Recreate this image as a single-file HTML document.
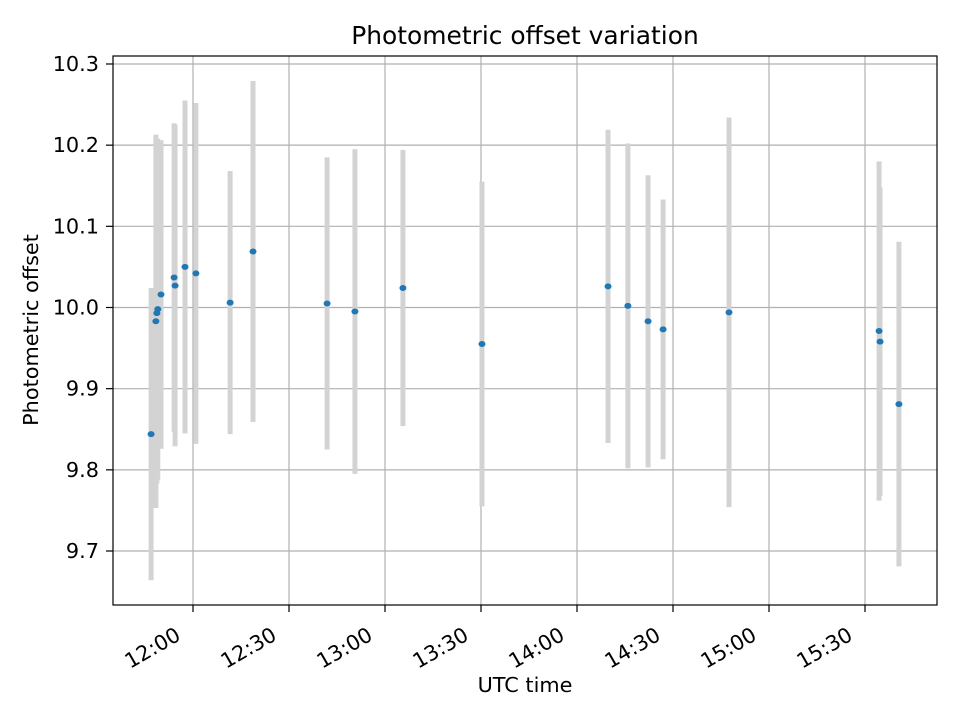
<!DOCTYPE html>
<html><head><meta charset="utf-8"><style>body{margin:0;background:#fff}svg{font-family:"DejaVu Sans","Liberation Sans",sans-serif}</style></head>
<body>
<svg id="c" width="960" height="720" xmlns="http://www.w3.org/2000/svg"></svg>
<script>
// minutes after 12:00 UTC
const times=[-13.1,-11.6,-11.3,-11.0,-10.0,-5.9,-5.6,-2.5,0.9,11.6,18.75,41.9,50.6,65.6,90.3,129.7,135.9,142.2,146.9,167.5,214.4,214.7,220.6];
const values=[9.844,9.983,9.993,9.998,10.016,10.037,10.027,10.050,10.042,10.006,10.069,10.005,9.995,10.024,9.955,10.026,10.002,9.983,9.973,9.994,9.971,9.958,9.881];
const errors=[0.18,0.23,0.21,0.21,0.19,0.19,0.198,0.205,0.21,0.162,0.21,0.18,0.20,0.17,0.20,0.193,0.20,0.18,0.16,0.24,0.209,0.19,0.20];
const yTicks=[9.7,9.8,9.9,10.0,10.1,10.2,10.3];
const xTicks=[0,30,60,90,120,150,180,210];
const xTickLabels=["12:00","12:30","13:00","13:30","14:00","14:30","15:00","15:30"];
const L=113,R=937,T=56,B=605;
const xS=t=>193+(t)*3.2;
const yS=v=>307.5-(v-10)*811.7;
const svg=document.getElementById('c');const NS='http://www.w3.org/2000/svg';
function mk(tag,attrs,parent){const e=document.createElementNS(NS,tag);for(const k in attrs)e.setAttribute(k,attrs[k]);(parent||svg).appendChild(e);return e;}
const grid=mk('g',{});


yTicks.forEach(v=>{const y=yS(v);
 const g=mk('line',{x1:L,x2:R,y1:y,y2:y,stroke:'#b0b0b0','stroke-width':1.2},grid);
 
 
 mk('line',{x1:L-7,x2:L,y1:y,y2:y,stroke:'#000','stroke-width':1.2});
 const t=mk('text',{x:L-14,y:y+7,'text-anchor':'end','font-size':20.8});t.textContent=v.toFixed(1);
 
 
});
xTicks.forEach((m,i)=>{const x=xS(m);
 const g=mk('line',{x1:x,x2:x,y1:T,y2:B,stroke:'#b0b0b0','stroke-width':1.2},grid);
 
 
 mk('line',{x1:x,x2:x,y1:B,y2:B+7,stroke:'#000','stroke-width':1.2});
 const ax=x-11,ay=B+34;
 const t=mk('text',{x:ax,y:ay,'text-anchor':'end','font-size':20.8,transform:`rotate(-30 ${ax} ${ay})`});t.textContent=xTickLabels[i];
 
 
});
times.forEach((m,i)=>{const x=xS(m);
 const b=mk('line',{x1:x,x2:x,y1:yS(values[i]+errors[i]),y2:yS(values[i]-errors[i]),stroke:'#d3d3d3','stroke-width':5});
 
 
});
times.forEach((m,i)=>{
 const p=mk('ellipse',{cx:xS(m),cy:yS(values[i]),rx:3.5,ry:3,fill:'#1f77b4'});
 
 
});
const fr=mk('rect',{x:L,y:T,width:R-L,height:B-T,fill:'none',stroke:'#000','stroke-width':1.2});


const ti=mk('text',{x:525,y:44,'text-anchor':'middle','font-size':24.9});ti.textContent='Photometric offset variation';


const xl=mk('text',{x:525,y:692,'text-anchor':'middle','font-size':20.8});xl.textContent='UTC time';


const yl=mk('text',{x:38,y:330,'text-anchor':'middle','font-size':20.8,transform:'rotate(-90 38 330)'});yl.textContent='Photometric offset';


</script>
</body></html>
